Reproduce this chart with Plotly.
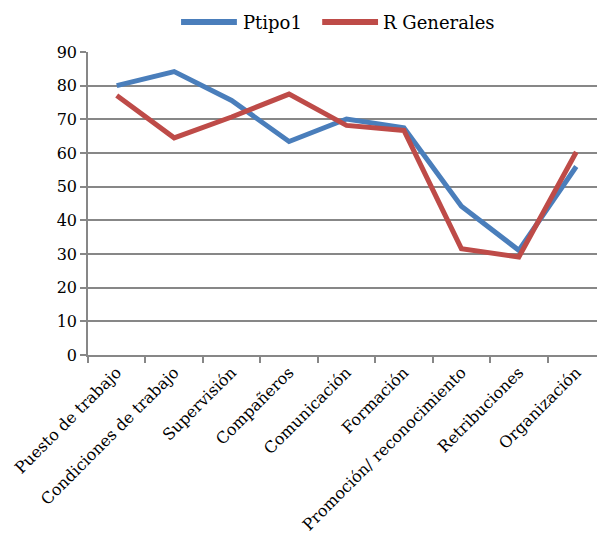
import plotly.graph_objects as go

categories = ["Puesto de trabajo", "Condiciones de trabajo", "Supervisión", "Compañeros",
              "Comunicación", "Formación", "Promoción/ reconocimiento", "Retribuciones", "Organización"]
ptipo1 = [80, 84.2, 75.6, 63.4, 70.1, 67.5, 44.2, 31.1, 56]
r_generales = [77.1, 64.5, 70.7, 77.5, 68.2, 66.7, 31.6, 29.1, 60.3]
series_names = ["Ptipo1", "R Generales"]
series_colors = ["#4A7EBB", "#BE4B48"]

FONT = "DejaVu Serif"
fig = go.Figure()
for name, vals, col in zip(series_names, [ptipo1, r_generales], series_colors):
    fig.add_trace(go.Scatter(x=categories, y=vals, mode="lines", name=name,
                             line=dict(color=col, width=5), showlegend=False))

# custom legend (longer line swatches, serif text)
leg_y = 1.099
swatches = [(0.180, 0.288, 0.296), (0.453, 0.561, 0.567)]
for (x0, x1, xt), name, col in zip(swatches, series_names, series_colors):
    fig.add_shape(type="line", xref="paper", yref="paper", x0=x0, x1=x1, y0=leg_y, y1=leg_y,
                  line=dict(color=col, width=6))
    fig.add_annotation(xref="paper", yref="paper", x=xt, y=leg_y, text=name, showarrow=False,
                       xanchor="left", yanchor="middle",
                       font=dict(family=FONT, size=18, color="black"))

fig.update_layout(
    width=597, height=543,
    margin=dict(l=80, r=0, t=44, b=196, autoexpand=False),
    paper_bgcolor="white", plot_bgcolor="white",
    font=dict(family=FONT, size=16, color="black"),
    showlegend=False,
    xaxis=dict(type="category", range=[-0.5, 8.5], tickangle=-45, showgrid=False,
               automargin=False,
               showline=True, linecolor="#878787", linewidth=1.5,
               ticks="outside", tickson="boundaries", ticklen=6, tickcolor="#878787",
               tickwidth=1.5, tickfont=dict(family=FONT, size=16, color="black")),
    yaxis=dict(range=[0, 90], dtick=10, showgrid=True, gridcolor="#878787", gridwidth=1.5,
               automargin=False,
               showline=True, linecolor="#878787", linewidth=1.5, zeroline=False,
               ticks="outside", ticklen=6, tickcolor="#878787", tickwidth=1.5,
               tickfont=dict(family=FONT, size=16, color="black")),
)
fig.write_html("out.html")
